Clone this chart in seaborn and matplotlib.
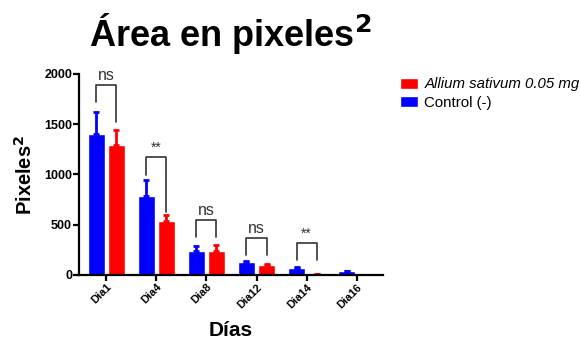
import numpy as np
import pandas as pd
import matplotlib
matplotlib.use("Agg")
import matplotlib.pyplot as plt
from matplotlib.patches import Patch
import seaborn as sns

dias = ["Dia1", "Dia4", "Dia8", "Dia12", "Dia14", "Dia16"]
control = [1400, 785, 235, 125, 70, 35]
control_err = [220, 160, 55, 10, 6, 3]
allium = [1290, 535, 235, 100, 10, 0]
allium_err = [155, 65, 65, 5, 2, 0]

# significance brackets: (index, label, top, left leg end, right leg end)
sig = [
    (0, "ns", 1890, 1725, 1525),
    (1, "**", 1177, 995, 630),
    (2, "ns", 547, 375, 375),
    (3, "ns", 365, 195, 195),
    (4, "**", 320, 150, 150),
]

lbl_ctrl = "Control (-)"
lbl_all = "Allium sativum 0.05 mg"

df = pd.DataFrame({
    "dia": dias * 2,
    "area": control + allium,
    "grupo": [lbl_ctrl] * len(dias) + [lbl_all] * len(dias),
})

sns.set_style("white")
plt.rcParams["font.family"] = ["Liberation Sans", "DejaVu Sans"]
plt.rcParams["text.color"] = "black"
plt.rcParams["axes.labelcolor"] = "black"
plt.rcParams["xtick.color"] = "black"
plt.rcParams["ytick.color"] = "black"

fig = plt.figure(figsize=(5.81, 3.39), dpi=100)
ax = fig.add_axes([0.136, 0.189, 0.523, 0.593])

colors = {lbl_ctrl: "#0000FF", lbl_all: "#FF0000"}
sns.barplot(data=df, x="dia", y="area", hue="grupo",
            hue_order=[lbl_ctrl, lbl_all], palette=colors, saturation=1,
            errorbar=None, width=0.8, gap=0.15, legend=False, ax=ax)

centers = {}
for cont, vals, errs, key in zip(ax.containers, [control, allium],
                                 [control_err, allium_err], [lbl_ctrl, lbl_all]):
    xs = [p.get_x() + p.get_width() / 2 for p in cont.patches]
    centers[key] = xs
    ax.errorbar(xs, vals, yerr=[np.zeros(len(vals)), errs], fmt="none",
                ecolor=colors[key], elinewidth=2, capsize=2.2, capthick=2)

for i, txt, top, l_end, r_end in sig:
    x1 = centers[lbl_ctrl][i]
    x2 = centers[lbl_all][i]
    ax.plot([x1, x1, x2, x2], [l_end, top, top, r_end], color="#333333",
            lw=1.2, clip_on=False)
    ty = top + 20 if txt == "ns" else top + 15
    ax.text((x1 + x2) / 2, ty, txt, ha="center", va="bottom",
            fontsize=11.5 if txt == "ns" else 10, color="#333333")

ax.set_ylim(0, 2000)
ax.set_xlim(-0.54, 5.52)
ax.set_yticks([0, 500, 1000, 1500, 2000])
sns.despine(ax=ax)
for s in ["left", "bottom"]:
    ax.spines[s].set_color("black")
    ax.spines[s].set_linewidth(1.6)
ax.tick_params(axis="both", direction="out", length=4, width=1.6,
               color="black", left=True, bottom=True)
ax.tick_params(axis="y", labelsize=9, pad=1)
ax.tick_params(axis="x", labelsize=8, pad=1)
for t in ax.get_yticklabels():
    t.set_fontweight("bold")
for t in ax.get_xticklabels():
    t.set_fontweight("bold")
    t.set_rotation(45)
    t.set_ha("right")
    t.set_rotation_mode("anchor")

ax.set_xlabel("Días", fontsize=15, fontweight="bold", labelpad=8)
ax.set_ylabel("Pixeles$^{\\mathbf{2}}$", fontsize=14.5, fontweight="bold", labelpad=6)

fig.text(0.397, 0.865, "Área en pixeles$^{\\mathbf{2}}$", ha="center", va="baseline",
         fontsize=26, fontweight="bold")

handles = [Patch(facecolor=colors[lbl_all]), Patch(facecolor=colors[lbl_ctrl])]
leg = fig.legend(handles, [lbl_all, lbl_ctrl], loc="upper left",
                 bbox_to_anchor=(0.688, 0.772), frameon=False, fontsize=10.8,
                 handlelength=1.2, handleheight=0.75, handletextpad=0.45,
                 labelspacing=0.3, borderpad=0, borderaxespad=0)
leg.get_texts()[0].set_style("italic")

fig.savefig("out.png", dpi=100)
